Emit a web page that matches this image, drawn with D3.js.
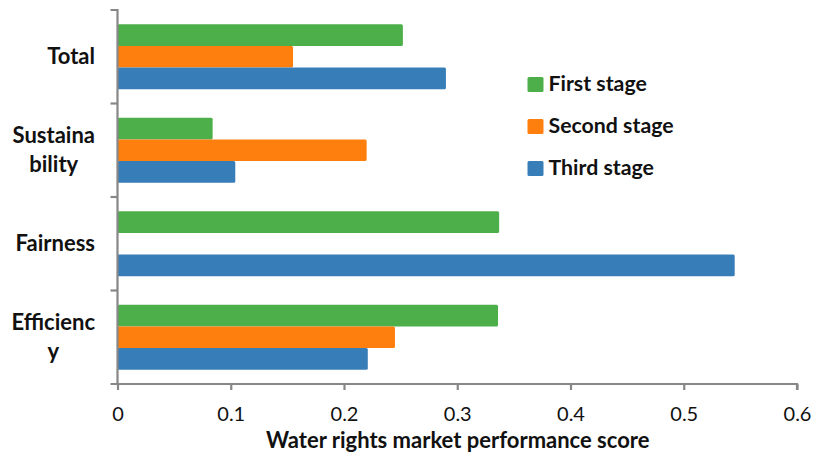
<!DOCTYPE html>
<html>
<head>
<meta charset="utf-8">
<script src="https://cdn.jsdelivr.net/npm/d3@7"></script>
<style>
  html, body { margin: 0; padding: 0; background: #ffffff; }
  svg { display: block; }
  text { font-family: Lato, "Open Sans", sans-serif; fill: #111; }
</style>
</head>
<body>
<svg id="chart" width="815" height="454"></svg>
<script>
// Performance dimensions, drawn top to bottom
const categories = ["Total", "Sustainability", "Fairness", "Efficiency"];
// Wrapped axis labels for each dimension
const categoryLines = [["Total"], ["Sustaina", "bility"], ["Fairness"], ["Efficienc", "y"]];
const stages = ["First stage", "Second stage", "Third stage"];
const stageColors = ["#4daf4a", "#ff7f0e", "#377eb8"];
// Scores per stage, in the order of categories
const firstStage  = [0.252, 0.084, 0.337, 0.336];
const secondStage = [0.155, 0.220, 0.000, 0.245];
const thirdStage  = [0.290, 0.104, 0.545, 0.221];
const xTicks = [0, 0.1, 0.2, 0.3, 0.4, 0.5, 0.6];
const xTitle = "Water rights market performance score";

const seriesValues = [firstStage, secondStage, thirdStage];
const svg = d3.select("#chart");

const plot = { left: 117.5, right: 797, top: 10, bottom: 384 };

const x = d3.scaleLinear().domain([0, 0.6]).range([plot.left, plot.right]);
const y = d3.scaleBand().domain(categories).range([plot.top, plot.bottom]).padding(0);
const ySub = d3.scaleBand().domain(stages).range([0, y.bandwidth()])
  .paddingInner(0).paddingOuter(0.65);

// Bars
const rows = [];
categories.forEach((c, i) => {
  stages.forEach((s, j) => rows.push({ cat: c, stage: s, color: stageColors[j], value: seriesValues[j][i] }));
});
svg.append("g").selectAll("rect").data(rows.filter(d => d.value > 0)).join("rect")
  .attr("x", x(0))
  .attr("y", d => y(d.cat) + ySub(d.stage))
  .attr("width", d => x(d.value) - x(0))
  .attr("height", ySub.bandwidth())
  .attr("rx", 1.5)
  .attr("fill", d => d.color);

// X axis
const axisColor = "#878787";
const xAxis = svg.append("g")
  .attr("transform", `translate(0,${plot.bottom})`)
  .call(d3.axisBottom(x).tickValues(xTicks).tickSize(6).tickPadding(17).tickFormat(d3.format("")));
xAxis.select(".domain").attr("stroke", axisColor).attr("stroke-width", 2.2)
  .attr("d", `M${plot.left - 7},0H${plot.right}V6`);
xAxis.selectAll(".tick line").attr("stroke", axisColor).attr("stroke-width", 2.2);
xAxis.selectAll(".tick text").attr("font-size", 20).attr("font-family", "Lato, sans-serif").attr("fill", "#111");

// Y axis: boundaries between categories
const yAxis = svg.append("g").attr("transform", `translate(${plot.left},0)`);
yAxis.append("path")
  .attr("d", `M${-7},${plot.top}H0V${plot.bottom}`)
  .attr("fill", "none").attr("stroke", axisColor).attr("stroke-width", 2.2);
yAxis.selectAll("line.bound").data(categories.slice(1)).join("line")
  .attr("x1", -7).attr("x2", 0)
  .attr("y1", d => y(d))
  .attr("y2", d => y(d))
  .attr("stroke", axisColor).attr("stroke-width", 2.2);

// Category labels: lines centred within a right-aligned block
const labelRight = 95;
const lineGap = 29;
categories.forEach((c, i) => {
  const lines = categoryLines[i];
  const g = svg.append("g");
  const texts = lines.map(l => g.append("text")
    .attr("font-size", 22).attr("font-weight", 700)
    .attr("text-anchor", "middle")
    .text(l));
  const widths = texts.map(t => t.node().getComputedTextLength());
  const maxW = d3.max(widths);
  const cx = labelRight - maxW / 2;
  const cy = y(c) + y.bandwidth() / 2;
  const first = cy - (lines.length - 1) * lineGap / 2 + 7.5;
  texts.forEach((t, k) => t.attr("x", cx).attr("y", first + k * lineGap));
});

// Axis title
svg.append("text")
  .attr("x", (plot.left + plot.right) / 2 + 0.5)
  .attr("y", 448)
  .attr("text-anchor", "middle")
  .attr("font-size", 22).attr("font-weight", 700)
  .text(xTitle);

// Legend
const legend = svg.append("g").attr("transform", "translate(527.5,77)");
stages.forEach((s, j) => {
  const row = legend.append("g").attr("transform", `translate(0,${j * 42})`);
  row.append("rect").attr("width", 16).attr("height", 15).attr("rx", 1.5).attr("fill", stageColors[j]);
  row.append("text").attr("x", 21).attr("y", 14)
    .attr("font-size", 21.3).attr("font-weight", 700).text(s);
});
</script>
</body>
</html>
